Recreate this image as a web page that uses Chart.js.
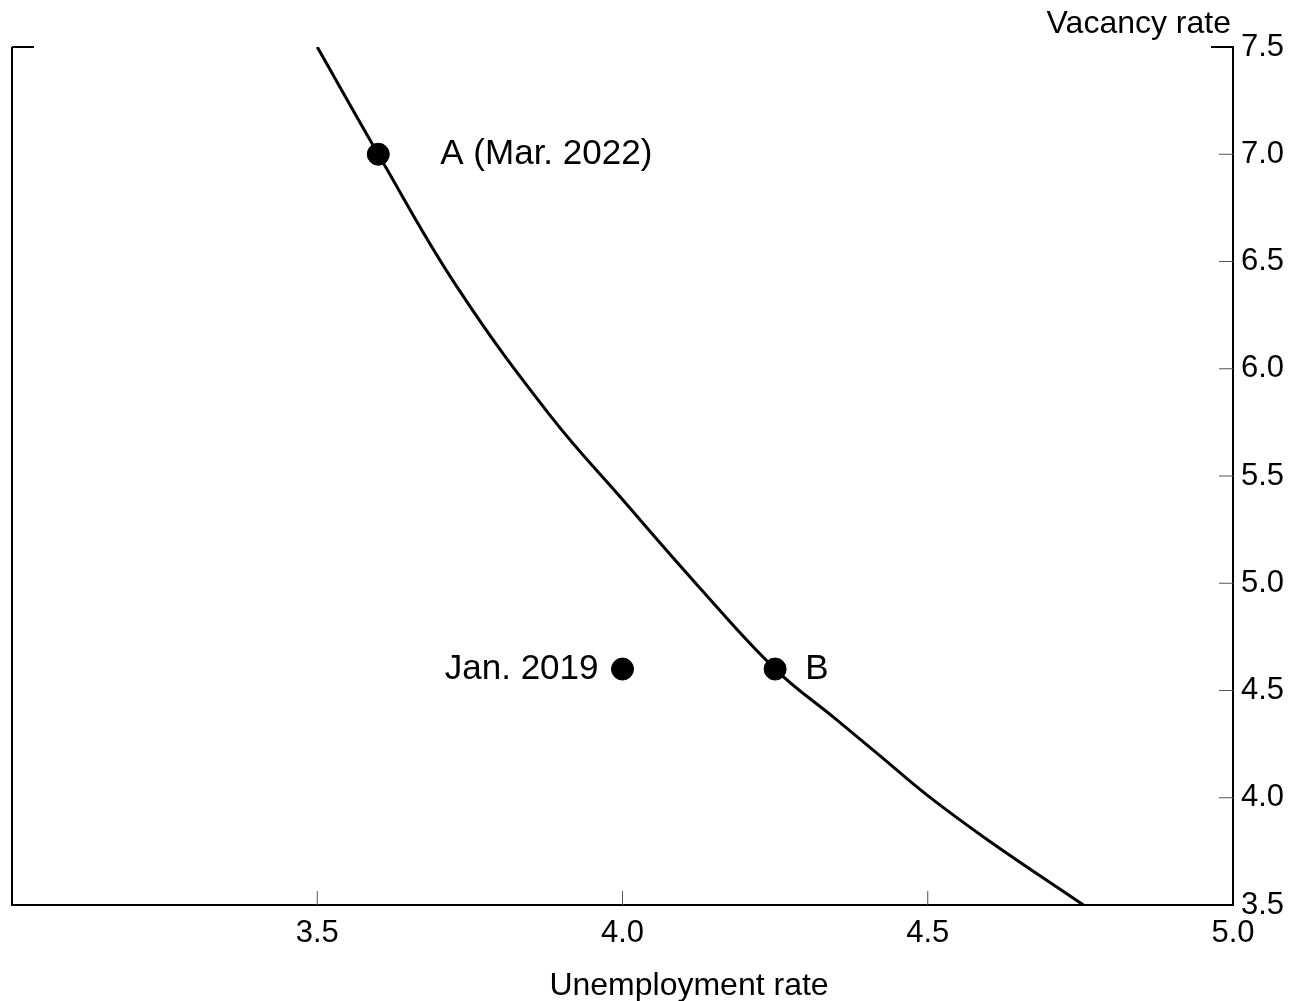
<!DOCTYPE html>
<html>
<head>
<meta charset="utf-8">
<script src="https://cdn.jsdelivr.net/npm/chart.js@4"></script>
<style>
  html, body { margin: 0; padding: 0; background: #fff; }
  #wrap { width: 1305px; height: 1001px; }
</style>
</head>
<body>
<div id="wrap"><canvas id="chart"></canvas></div>
<script>
// Beveridge curve
const curveU = [3.5, 3.6, 3.727, 3.882, 4.0, 4.123, 4.25, 4.348, 4.42, 4.5, 4.6, 4.755];
const curveV = [7.5, 7.0, 6.39, 5.78, 5.39, 4.99, 4.6, 4.37, 4.2, 4.01, 3.80, 3.5];

// Marked points
const pointLabels = ["A (Mar. 2022)", "Jan. 2019", "B"];
const pointU = [3.6, 4.0, 4.25];
const pointV = [7.0, 4.6, 4.6];
const labelSide = ["right", "left", "right"];

const xTicks = [3.0, 3.5, 4.0, 4.5, 5.0];
const yTicks = [3.5, 4.0, 4.5, 5.0, 5.5, 6.0, 6.5, 7.0, 7.5];

const FONT = "Liberation Sans, Arial, sans-serif";

// inward tick marks, left border, titles and point labels
const decor = {
  id: "decor",
  afterDraw(chart) {
    const ctx = chart.ctx;
    const a = chart.chartArea;
    const xs = chart.scales.x, ys = chart.scales.y;
    ctx.save();
    ctx.strokeStyle = "#000";
    ctx.lineWidth = 2;
    ctx.beginPath();
    ctx.moveTo(a.left, a.top);
    ctx.lineTo(a.left, a.bottom);
    ctx.moveTo(a.left, a.top);
    ctx.lineTo(a.left + 22, a.top);
    ctx.moveTo(a.right, a.top);
    ctx.lineTo(a.right - 22, a.top);
    ctx.stroke();
    ctx.strokeStyle = "#555";
    ctx.lineWidth = 1;
    ctx.beginPath();
    xTicks.slice(1, -1).forEach(v => {
      const px = xs.getPixelForValue(v);
      ctx.moveTo(px, a.bottom);
      ctx.lineTo(px, a.bottom - 14);
    });
    yTicks.slice(1, -1).forEach(v => {
      const py = ys.getPixelForValue(v);
      ctx.moveTo(a.right, py);
      ctx.lineTo(a.right - 14, py);
    });
    ctx.stroke();

    ctx.fillStyle = "#000";
    ctx.font = "32px " + FONT;
    ctx.textBaseline = "middle";
    ctx.textAlign = "right";
    ctx.fillText("Vacancy rate", a.right - 2, 24);
    ctx.textAlign = "center";
    ctx.fillText("Unemployment rate", 689, 986);

    ctx.font = "35px " + FONT;
    pointLabels.forEach((t, i) => {
      const px = xs.getPixelForValue(pointU[i]);
      const py = ys.getPixelForValue(pointV[i]);
      if (labelSide[i] === "right") {
        ctx.textAlign = "left";
        ctx.fillText(t, px + (i === 0 ? 62 : 30), py);
      } else {
        ctx.textAlign = "right";
        ctx.fillText(t, px - 24, py);
      }
    });
    ctx.restore();
  }
};

new Chart(document.getElementById("chart"), {
  type: "scatter",
  data: {
    datasets: [
      {
        type: "line",
        data: curveU.map((u, i) => ({ x: u, y: curveV[i] })),
        borderColor: "#000",
        borderWidth: 3,
        pointRadius: 0,
        tension: 0.4,
        fill: false
      },
      {
        data: pointU.map((u, i) => ({ x: u, y: pointV[i] })),
        backgroundColor: "#000",
        borderColor: "#000",
        pointRadius: 11
      }
    ]
  },
  options: {
    responsive: true,
    maintainAspectRatio: false,
    animation: false,
    layout: { padding: { left: 11, top: 47, right: 0, bottom: 0 } },
    plugins: { legend: { display: false }, tooltip: { enabled: false } },
    scales: {
      x: {
        type: "linear",
        min: 3.0,
        max: 5.0,
        afterFit: s => { s.height = 96; },
        afterBuildTicks: s => { s.ticks = xTicks.map(v => ({ value: v })); },
        grid: { display: false, drawTicks: false },
        border: { display: true, color: "#000", width: 2 },
        ticks: {
          padding: 10,
          color: "#000",
          font: { size: 31, family: FONT },
          callback: v => (v === 3.0 ? "" : v.toFixed(1))
        }
      },
      y: {
        position: "right",
        min: 3.5,
        max: 7.5,
        afterFit: s => { s.width = 72; },
        afterBuildTicks: s => { s.ticks = yTicks.map(v => ({ value: v })); },
        grid: { display: false, drawTicks: false },
        border: { display: true, color: "#000", width: 2 },
        ticks: {
          padding: 8,
          color: "#000",
          font: { size: 31, family: FONT },
          callback: v => v.toFixed(1)
        }
      }
    }
  },
  plugins: [decor]
});
</script>
</body>
</html>
